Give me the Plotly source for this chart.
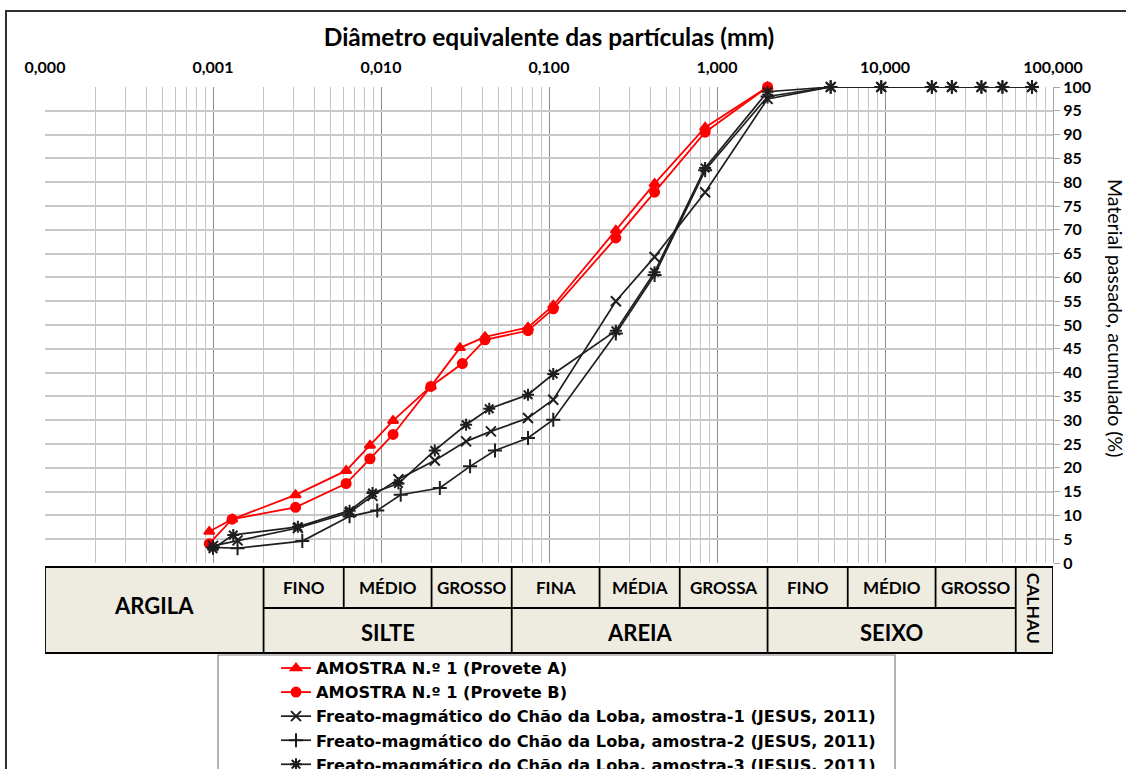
import math
import plotly.graph_objects as go

# ---------------- data (diameter in mm, cumulative % passing) ----------------
dA = [2.0, 0.85, 0.425, 0.25, 0.106, 0.075, 0.0416, 0.0295, 0.0198, 0.0118, 0.0086, 0.0062, 0.0031, 0.0013, 0.00095]
pA = [100, 91.5, 79.7, 69.9, 54.1, 49.5, 47.5, 45.2, 37.1, 29.9, 24.7, 19.4, 14.3, 9.2, 6.6]

dB = [2.0, 0.85, 0.425, 0.25, 0.106, 0.075, 0.0416, 0.0305, 0.0198, 0.0118, 0.0086, 0.0062, 0.0031, 0.0013, 0.00095]
pB = [100, 90.5, 77.9, 68.3, 53.4, 48.8, 46.9, 41.9, 37.1, 27.0, 21.9, 16.7, 11.7, 9.2, 4.05]

d1 = [75, 50, 37.5, 25, 19, 9.5, 4.75, 2.0, 0.85, 0.425, 0.25, 0.106, 0.075, 0.0451, 0.0321, 0.0209, 0.0127, 0.0089, 0.0065, 0.0032, 0.0014, 0.001]
p1 = [100, 100, 100, 100, 100, 100, 100, 97.5, 77.9, 64.3, 55.0, 34.3, 30.45, 27.65, 25.55, 21.55, 17.6, 14.1, 10.6, 7.35, 4.75, 3.6]

d2 = [75, 50, 37.5, 25, 19, 9.5, 4.75, 2.0, 0.85, 0.425, 0.25, 0.106, 0.075, 0.0477, 0.0339, 0.0224, 0.0131, 0.0095, 0.0065, 0.0034, 0.0014, 0.001]
p2 = [100, 100, 100, 100, 100, 100, 100, 98.0, 82.5, 60.5, 48.2, 30.1, 26.25, 23.65, 20.3, 15.75, 14.35, 11.05, 9.8, 4.6, 3.1, 3.3]

d3 = [75, 50, 37.5, 25, 19, 9.5, 4.75, 2.0, 0.85, 0.425, 0.25, 0.106, 0.075, 0.0441, 0.0321, 0.0209, 0.0127, 0.0089, 0.0065, 0.0032, 0.00132, 0.001]
p3 = [100, 100, 100, 100, 100, 100, 100, 99.0, 83.0, 61.1, 48.8, 39.7, 35.35, 32.4, 29.05, 23.65, 16.7, 14.7, 11.0, 7.6, 5.9, 3.0]

series_names = [
    "AMOSTRA N.º 1 (Provete A)",
    "AMOSTRA N.º 1 (Provete B)",
    "Freato-magmático do Chão da Loba, amostra-1 (JESUS, 2011)",
    "Freato-magmático do Chão da Loba, amostra-2 (JESUS, 2011)",
    "Freato-magmático do Chão da Loba, amostra-3 (JESUS, 2011)",
]

x_tickvals = [0.0001, 0.001, 0.01, 0.1, 1, 10, 100]
x_ticktext = ["0,000", "0,001", "0,010", "0,100", "1,000", "10,000", "100,000"]
y_tickvals = list(range(0, 101, 5))

# classification table (MIT scale), limits in mm
class_limits = [0.0001, 0.002, 0.006, 0.02, 0.06, 0.2, 0.6, 2, 6, 20, 60, 100]
sub_labels = ["FINO", "MÉDIO", "GROSSO", "FINA", "MÉDIA", "GROSSA", "FINO", "MÉDIO", "GROSSO"]
main_labels = ["SILTE", "AREIA", "SEIXO"]

# ---------------- layout geometry helpers ----------------
W, H = 1126, 769
L, R, T, B = 45, 1053, 87, 563
PW, PH = R - L, B - T
FONT = "Lato"


def px(xp):
    return (xp - L) / PW


def py(yp):
    return (B - yp) / PH


fig = go.Figure()

styles = [
    dict(color="#FF0000", symbol="triangle-up", size=9, lw=1.8),
    dict(color="#FF0000", symbol="circle", size=9, lw=1.8),
    dict(color="#1E1E1E", symbol="x-thin-open", size=10, lw=1.7),
    dict(color="#1E1E1E", symbol="cross-thin-open", size=10, lw=1.7),
    dict(color="#1E1E1E", symbol="asterisk-open", size=10, lw=1.7),
]
datasets = [(dA, pA), (dB, pB), (d1, p1), (d2, p2), (d3, p3)]

for name, (d, p), st in zip(series_names, datasets, styles):
    fig.add_trace(go.Scatter(
        x=d, y=p, name=name, mode="lines+markers",
        line=dict(color=st["color"], width=st["lw"]),
        marker=dict(symbol=st["symbol"], size=st["size"], color=st["color"],
                    line=dict(color=st["color"], width=2.0)),
        cliponaxis=False,
    ))

shapes = []
annotations = []

# outer frame
shapes.append(dict(type="rect", xref="paper", yref="paper",
                   x0=px(6), x1=px(1300), y0=py(11), y1=py(900),
                   line=dict(color="#303030", width=2), layer="below"))

# classification table
yt, ym, yb = py(567), py(608), py(653)
shapes.append(dict(type="rect", xref="x", yref="paper", x0=class_limits[0], x1=class_limits[-1],
                   y0=yb, y1=yt, fillcolor="#EEECE1", line=dict(color="black", width=1.8), layer="above"))
for lim in [0.002, 0.06, 2, 60]:
    shapes.append(dict(type="line", xref="x", yref="paper", x0=lim, x1=lim, y0=yb, y1=yt,
                       line=dict(color="black", width=1.8)))
shapes.append(dict(type="line", xref="x", yref="paper", x0=0.002, x1=60, y0=ym, y1=ym,
                   line=dict(color="black", width=1.8)))
for lim in [0.006, 0.02, 0.2, 0.6, 6, 20]:
    shapes.append(dict(type="line", xref="x", yref="paper", x0=lim, x1=lim, y0=ym, y1=yt,
                       line=dict(color="black", width=1.8)))

bold = dict(family=FONT, color="black", weight="bold")
ctr = dict(showarrow=False, xanchor="center", yanchor="middle")
# sub labels
for i, lab in enumerate(sub_labels):
    a, b = class_limits[i + 1], class_limits[i + 2]
    annotations.append(dict(xref="x", yref="paper", x=(math.log10(a) + math.log10(b)) / 2,
                            y=py(587), text=lab, font=dict(size=17, **bold), **ctr))
# main labels
main_bounds = [(0.002, 0.06), (0.06, 2), (2, 60)]
for lab, (a, b) in zip(main_labels, main_bounds):
    annotations.append(dict(xref="x", yref="paper", x=(math.log10(a) + math.log10(b)) / 2,
                            y=py(632), text=lab, font=dict(size=22, **bold), **ctr))
annotations.append(dict(xref="x", yref="paper", x=(math.log10(0.0001) + math.log10(0.002)) / 2,
                        y=py(605), text="ARGILA", font=dict(size=22, **bold), **ctr))
annotations.append(dict(xref="x", yref="paper", x=(math.log10(60) + math.log10(100)) / 2,
                        y=py(608), text="CALHAU", textangle=90,
                        font=dict(size=17.5, **bold), **ctr))

# y-axis title (reads top to bottom)
annotations.append(dict(xref="paper", yref="paper", x=px(1116), y=py(318),
                        text="Material passado, acumulado (%)", textangle=90,
                        font=dict(family=FONT, size=19.5, color="black"), **ctr))

# legend box
shapes.append(dict(type="rect", xref="paper", yref="paper",
                   x0=px(218), x1=px(895), y0=py(900), y1=py(655),
                   line=dict(color="#7F7F7F", width=1.2), fillcolor="white", layer="below"))

fig.update_layout(
    width=W, height=H, autosize=False,
    margin=dict(l=L, r=W - R, t=T, b=H - B, pad=0, autoexpand=False),
    paper_bgcolor="white", plot_bgcolor="white",
    font=dict(family=FONT, color="black"),
    shapes=shapes, annotations=annotations,
    showlegend=True,
    legend=dict(x=px(276), y=py(651), xanchor="left", yanchor="top",
                bgcolor="rgba(0,0,0,0)", borderwidth=0,
                font=dict(family="DejaVu Sans", size=16.2, color="black", weight="bold"),
                tracegroupgap=0, itemwidth=30),
    xaxis=dict(
        type="log", range=[-4, 2], side="top",
        tickmode="array", tickvals=x_tickvals, ticktext=x_ticktext,
        tickfont=dict(family=FONT, size=16, color="black", weight="bold"),
        ticks="", ticklabelstandoff=10,
        showgrid=True, gridcolor="#8C8C8C", gridwidth=1,
        minor=dict(tickmode="linear", dtick="D1", showgrid=True, gridcolor="#C4C4C4", gridwidth=1.2),
        showline=False, zeroline=False,
        title=dict(text="Diâmetro equivalente das partículas (mm)", standoff=3,
                   font=dict(family=FONT, size=24.5, color="black", weight="bold")),
    ),
    yaxis=dict(
        range=[0, 100], side="right",
        tickmode="array", tickvals=y_tickvals,
        tickfont=dict(family=FONT, size=16, color="black", weight="bold"),
        ticks="outside", ticklen=6, tickcolor="#A6A6A6",
        showgrid=True, gridcolor="#C8C8C8", gridwidth=1.6,
        showline=True, linecolor="#A6A6A6", linewidth=1, zeroline=False,
    ),
)

fig.write_html("out.html", config={"displayModeBar": False},
               post_script="document.body.style.margin='0';document.body.style.overflow='hidden';")
